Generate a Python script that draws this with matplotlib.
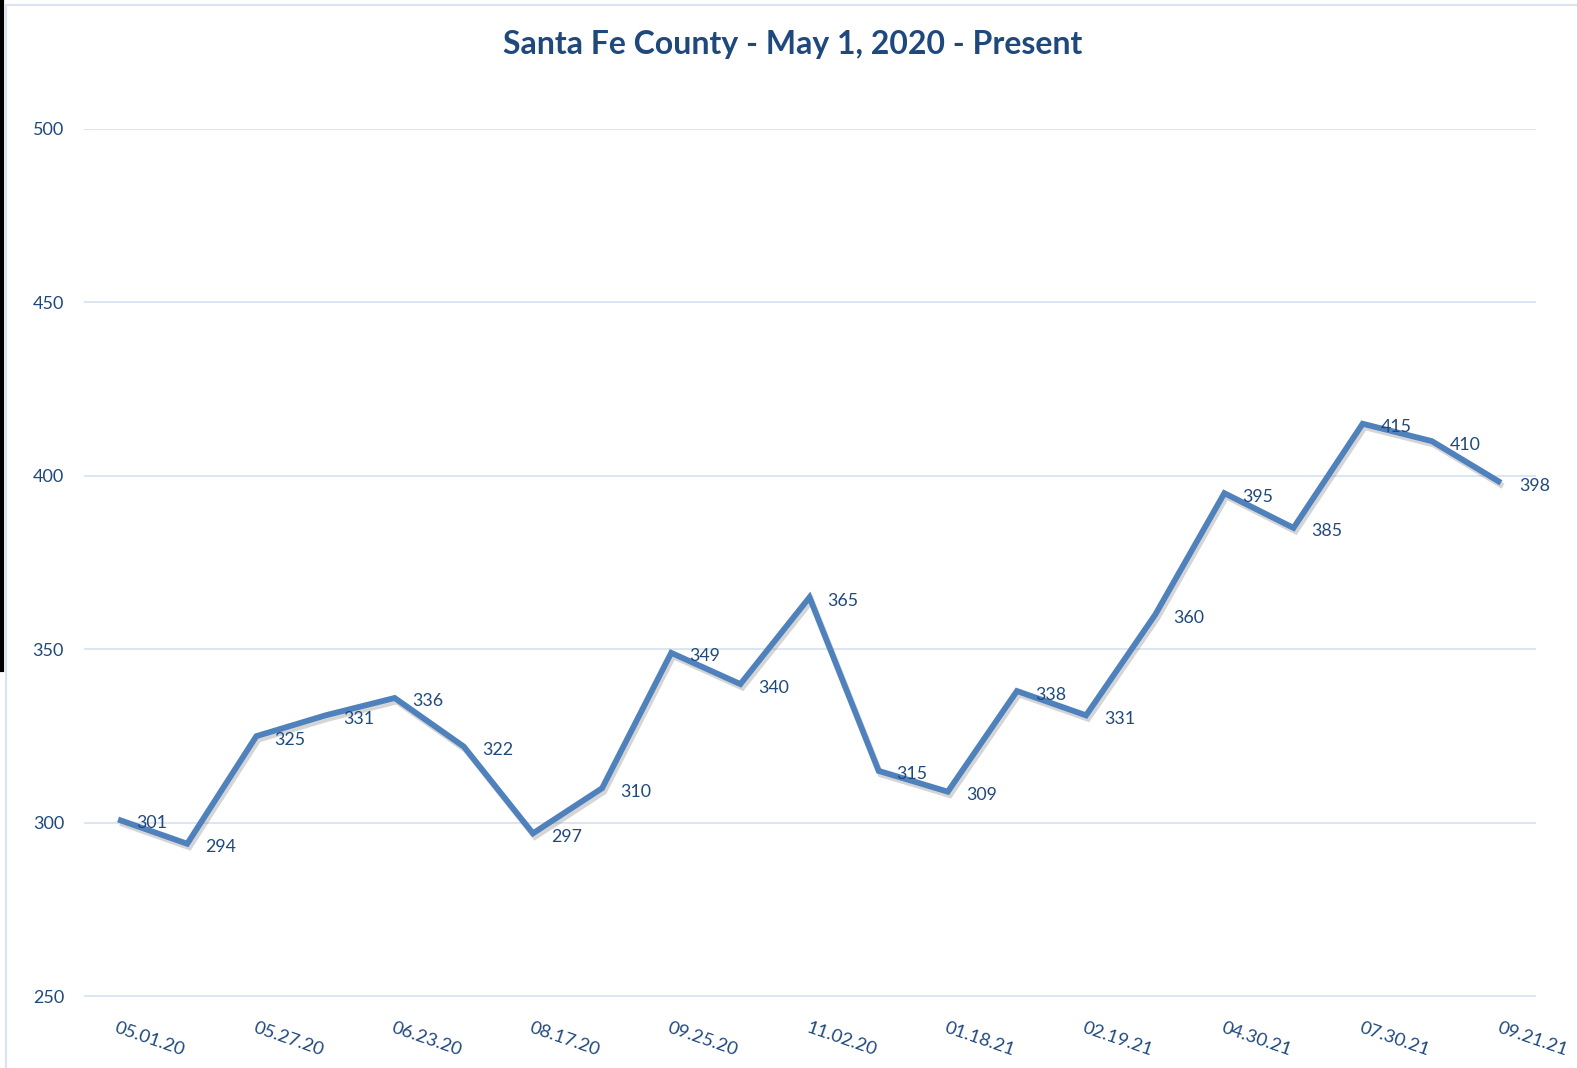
import matplotlib
matplotlib.use("Agg")
import matplotlib.pyplot as plt
import matplotlib.patheffects as pe
from matplotlib.lines import Line2D

dates = ["05.01.20", "", "05.27.20", "", "06.23.20", "", "08.17.20", "", "09.25.20", "",
         "11.02.20", "", "01.18.21", "", "02.19.21", "", "04.30.21", "", "07.30.21", "", "09.21.21"]
values = [301, 294, 325, 331, 336, 322, 297, 310, 349, 340, 365, 315, 309, 338, 331,
          360, 395, 385, 415, 410, 398]
y_ticks = [250, 300, 350, 400, 450, 500]
title = "Santa Fe County - May 1, 2020 - Present"

W, H = 1577, 1068
fig = plt.figure(figsize=(W / 100, H / 100), dpi=100)
plt.rcParams['font.family'] = ['Lato', 'DejaVu Sans']

text_c = "#1F497D"
line_c = "#4F81BD"
grid_c = "#D9E3F1"

L, R, T, B = 83.5, 1535.5, 128.7, 996.5
ax = fig.add_axes([L / W, 1 - B / H, (R - L) / W, (B - T) / H])
x = list(range(len(values)))
ax.plot(x, values, color=line_c, lw=4.2, solid_joinstyle='miter', solid_capstyle='butt',
        path_effects=[pe.SimpleLineShadow(offset=(1.5, -2.5), shadow_color='#888888', alpha=0.35),
                      pe.Normal()], zorder=3)
ax.set_xlim(-0.5, len(values) - 0.5)
ax.set_ylim(250, 500)
ax.set_yticks(y_ticks)
ax.set_yticklabels([str(v) for v in y_ticks], color=text_c, fontsize=13)
ax.grid(axis='y', color=grid_c, lw=1.3)
ax.set_axisbelow(True)
for s in ax.spines.values():
    s.set_visible(False)
ax.tick_params(axis='both', length=0)
ax.tick_params(axis='y', pad=14)

tick_pos = [i for i, d in enumerate(dates) if d]
ax.set_xticks(tick_pos)
ax.set_xticklabels([dates[i] for i in tick_pos], rotation=-19, rotation_mode='anchor',
                   ha='left', va='top', color=text_c, fontsize=13.3)
ax.tick_params(axis='x', pad=17)

for xi, v in zip(x, values):
    ax.annotate(str(v), (xi, v), xytext=(13, -2.5), textcoords='offset points',
                ha='left', va='center', color=text_c, fontsize=12.8, zorder=4)

fig.text(792.5 / W, 1 - 44.5 / H, title, ha='center', va='center', fontsize=23,
         fontweight='bold', color=text_c)

# chart border and left artifact
fig.add_artist(Line2D([6 / W, 1], [1 - 5 / H, 1 - 5 / H], color=grid_c, lw=1.5))
fig.add_artist(Line2D([6 / W, 6 / W], [0, 1 - 5 / H], color=grid_c, lw=1.5))
fig.add_artist(Line2D([1.5 / W, 1.5 / W], [1 - 670 / H, 1], color='black', lw=3))

fig.savefig("out.png", dpi=100, facecolor='white')
